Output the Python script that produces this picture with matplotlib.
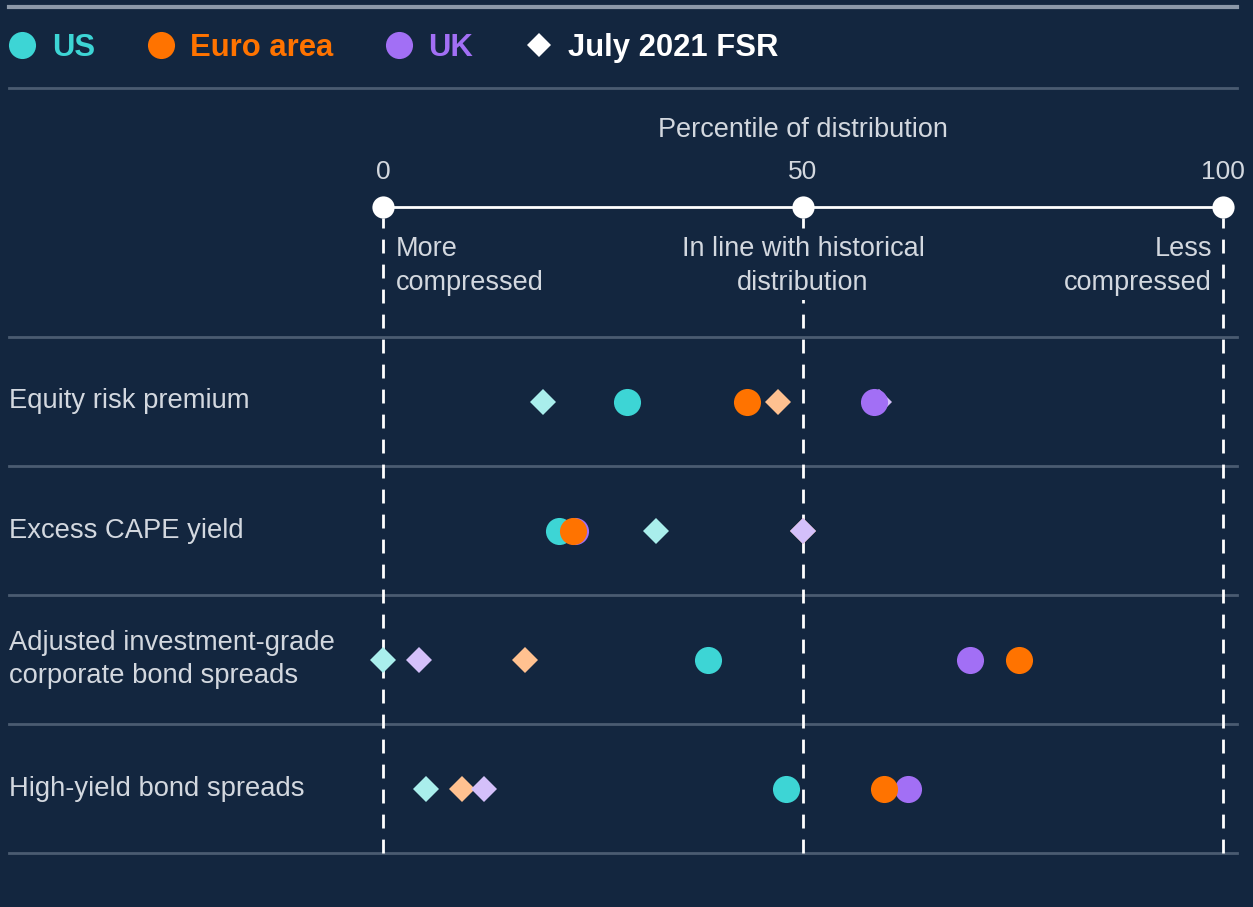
import matplotlib
matplotlib.use("Agg")
import matplotlib.pyplot as plt
from matplotlib.lines import Line2D

plt.rcParams["font.family"] = ["Liberation Sans", "DejaVu Sans"]

# data: percentile of distribution
categories = ["Equity risk premium", "Excess CAPE yield",
              "Adjusted investment-grade\ncorporate bond spreads",
              "High-yield bond spreads"]
us_now = [29.1, 21.0, 38.7, 48.0]
euro_now = [43.3, 22.6, 75.7, 59.6]
uk_now = [58.4, 22.9, 69.9, 62.5]
us_fsr = [19.1, 32.5, 0.0, 5.1]
euro_fsr = [47.0, 50.0, 16.9, 9.4]
uk_fsr = [59.0, 50.0, 4.3, 12.0]
scale_ticks = [0, 50, 100]

BG = "#13263f"
TXT = "#d3d8df"
GRID = "#4a5b71"
US_C, EU_C, UK_C = "#3dd5d5", "#ff7300", "#a26ff5"
US_L, EU_L, UK_L = "#a9eeec", "#ffc190", "#d4c0fa"

W, H = 1253, 907
fig = plt.figure(figsize=(W / 100, H / 100), dpi=100, facecolor=BG)

# axes: x 0..100 maps to px 383..1223, rows span px 337..853
ax = fig.add_axes([383 / W, 1 - 853 / H, 840 / W, 516 / H])
ax.set_facecolor(BG)
ax.set_xlim(0, 100)
ax.set_ylim(len(categories), 0)
ax.axis("off")

def ay(px):
    # pixel row -> axes y coordinate
    return 1 + (337 - px) / 516

def fy(px):
    return 1 - px / H

ypos = [i + 0.5 for i in range(len(categories))]

# row separators
for i in range(len(categories) + 1):
    ax.axhline(i, xmin=(9 - 383) / 840, xmax=(1237 - 383) / 840,
               color=GRID, lw=2, clip_on=False, zorder=1)

# top rules
fig.add_artist(Line2D([9 / W, 1237 / W], [fy(7), fy(7)], color="#8c98a8", lw=3))
fig.add_artist(Line2D([9 / W, 1237 / W], [fy(88), fy(88)], color=GRID, lw=2))

# vertical dashed guides
for t in scale_ticks:
    ax.axvline(t, ymin=0, ymax=ay(218), color="white", lw=2,
               ls=(0, (5, 4)), clip_on=False, zorder=2)

# percentile scale
xt = ax.get_xaxis_transform()
ax.plot([scale_ticks[0], scale_ticks[-1]], [ay(207)] * 2, color="white", lw=2,
        transform=xt, clip_on=False, zorder=3)
ax.plot(scale_ticks, [ay(207)] * len(scale_ticks), "o", color="white", ms=16,
        mew=0, transform=xt, clip_on=False, zorder=4)
for t in scale_ticks:
    ax.text(t, ay(172), str(t), transform=xt, ha="center", va="center",
            fontsize=19, color=TXT)
ax.text(50, ay(130), "Percentile of distribution", transform=xt, ha="center",
        va="center", fontsize=19.5, color=TXT)
ax.text(1.5, ay(266), "More\ncompressed", transform=xt, ha="left", va="center",
        fontsize=19.5, color=TXT, linespacing=1.38)
ax.text(98.7, ay(266), "Less\ncompressed", transform=xt, ha="right", va="center",
        fontsize=19.5, color=TXT, linespacing=1.38, multialignment="right")
ax.text(50, ay(266), "In line with historical\ndistribution", transform=xt,
        ha="center", va="center", fontsize=19.5, color=TXT, linespacing=1.38,
        multialignment="center", zorder=3,
        bbox=dict(boxstyle="square,pad=0.15", fc=BG, ec="none"))

# category labels
yt = ax.get_yaxis_transform()
for y, c in zip(ypos, categories):
    ax.text((9 - 383) / 840, y, c, transform=yt, ha="left", va="center",
            fontsize=19.7, color=TXT, linespacing=1.38)

# markers
ax.plot(us_fsr, ypos, "D", color=US_L, ms=13.5, mew=0, ls="none", zorder=4, clip_on=False)
ax.plot(euro_fsr, ypos, "D", color=EU_L, ms=13.5, mew=0, ls="none", zorder=4, clip_on=False)
ax.plot(uk_fsr, ypos, "D", color=UK_L, ms=13.5, mew=0, ls="none", zorder=4, clip_on=False)
h_us, = ax.plot(us_now, ypos, "o", color=US_C, ms=19.5, mew=0, ls="none", zorder=5, label="US")
h_uk, = ax.plot(uk_now, ypos, "o", color=UK_C, ms=19.5, mew=0, ls="none", zorder=5, label="UK")
h_eu, = ax.plot(euro_now, ypos, "o", color=EU_C, ms=19.5, mew=0, ls="none", zorder=5, label="Euro area")

# legend
h_fsr = Line2D([], [], marker="D", color="white", ms=12.5, mew=0, ls="none",
               label="July 2021 FSR")
leg = fig.legend(handles=[h_us, h_eu, h_uk, h_fsr], loc="center left",
                 bbox_to_anchor=(7 / W, fy(48)), ncol=4, frameon=False,
                 prop={"weight": "bold", "size": 22.3}, handlelength=1.0,
                 handletextpad=0.45, columnspacing=1.62, borderpad=0,
                 borderaxespad=0, markerscale=1.0)
for txt, col in zip(leg.get_texts(), [US_C, EU_C, UK_C, "white"]):
    txt.set_color(col)

fig.savefig("out.png", dpi=100, facecolor=BG)
